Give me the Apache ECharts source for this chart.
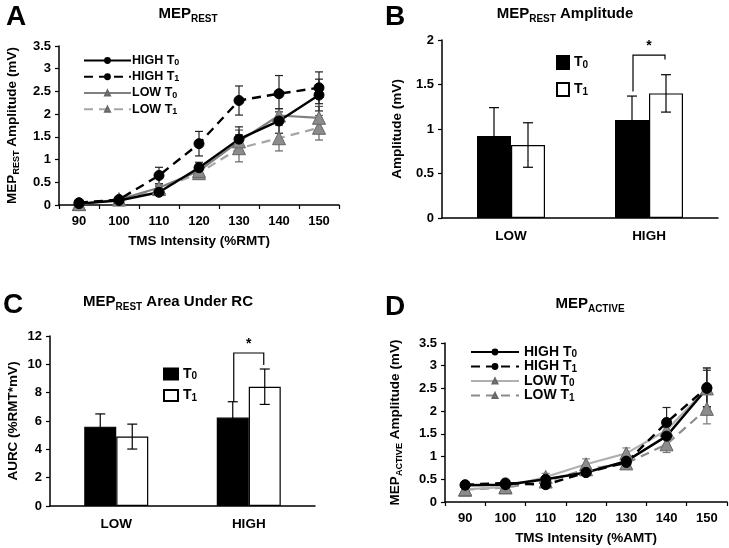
<!DOCTYPE html>
<html><head><meta charset="utf-8">
<script src="https://cdn.jsdelivr.net/npm/echarts@6/dist/echarts.min.js"></script>
<style>html,body{margin:0;padding:0;background:#fff}#c{width:729px;height:548px}</style>
</head><body><div id="c"></div>
<script>
// ---------- data ----------
const intensities = ['90','100','110','120','130','140','150'];
// Panel A: MEP_REST recruitment curves
const restHighT0 = [0.03,0.10,0.28,0.82,1.45,1.85,2.42];
const restHighT1 = [0.05,0.12,0.65,1.35,2.30,2.45,2.58];
const restLowT0  = [0.02,0.12,0.38,0.75,1.40,1.97,1.92];
const restLowT1  = [0.02,0.13,0.35,0.70,1.25,1.47,1.70];
const restHighT0Err = [0.02,0.03,0.05,0.12,0.27,0.27,0.35];
const restHighT1Err = [0.02,0.03,0.18,0.27,0.32,0.40,0.35];
const restLowT0Err  = [0.02,0.03,0.06,0.15,0.25,0.15,0.25];
const restLowT1Err  = [0.02,0.03,0.06,0.13,0.30,0.28,0.27];
// Panel B: MEP_REST amplitude
const groups = ['LOW','HIGH'];
const ampT0 = [0.92,1.10];
const ampT0Err = [0.32,0.27];
const ampT1 = [0.82,1.40];
const ampT1Err = [0.25,0.21];
const ampBracket = [1.42,1.78,1.83]; // left end, right end, top (HIGH group)
// Panel C: area under recruitment curve
const aurcT0 = [5.60,6.24];
const aurcT0Err = [0.90,1.12];
const aurcT1 = [4.90,8.42];
const aurcT1Err = [0.88,1.25];
const aurcBracket = [7.34,9.95,10.8];
// Panel D: MEP_ACTIVE recruitment curves
const activeHighT0 = [0.37,0.38,0.50,0.65,0.90,1.45,2.50];
const activeHighT1 = [0.38,0.42,0.38,0.65,0.87,1.75,2.52];
const activeLowT0  = [0.28,0.33,0.55,0.83,1.07,1.58,2.50];
const activeLowT1  = [0.27,0.32,0.45,0.72,0.85,1.27,2.05];
const activeHighT0Err = [0.03,0.03,0.05,0.06,0.08,0.20,0.40];
const activeHighT1Err = [0.03,0.03,0.05,0.06,0.08,0.33,0.43];
const activeLowT0Err  = [0.03,0.03,0.08,0.12,0.12,0.20,0.45];
const activeLowT1Err  = [0.03,0.03,0.06,0.10,0.08,0.18,0.33];

// ---------- helpers ----------
const FONT = 'Liberation Sans, Arial, sans-serif';
const errData = (vals, errs) => vals.map((v,i)=>[i, v-errs[i], v+errs[i]]);
function errSeries(vals, errs, xi, color, offset, cap, z) {
  return {
    type:'custom', xAxisIndex:xi, yAxisIndex:xi, z: z||3, silent:true,
    data: errData(vals, errs),
    renderItem: function(params, api){
      const p1 = api.coord([api.value(0), api.value(1)]);
      const p2 = api.coord([api.value(0), api.value(2)]);
      const cx = p1[0] + offset;
      const st = {stroke:color, lineWidth:1.2};
      return {type:'group', children:[
        {type:'line', shape:{x1:cx,y1:p1[1],x2:cx,y2:p2[1]}, style:st},
        {type:'line', shape:{x1:cx-cap,y1:p1[1],x2:cx+cap,y2:p1[1]}, style:st},
        {type:'line', shape:{x1:cx-cap,y1:p2[1],x2:cx+cap,y2:p2[1]}, style:st}
      ]};
    }
  };
}
function bracketSeries(br, gi, xi, half) {
  return {
    type:'custom', xAxisIndex:xi, yAxisIndex:xi, z:5, silent:true,
    data:[[gi, br[0], br[1], br[2]]],
    renderItem: function(params, api){
      const c = api.value(0);
      const pl = api.coord([c, api.value(1)]);
      const pr = api.coord([c, api.value(2)]);
      const pt = api.coord([c, api.value(3)]);
      const xl = pl[0]-half, xr = pl[0]+half;
      return {type:'group', children:[
        {type:'polyline', shape:{points:[[xl,pl[1]],[xl,pt[1]],[xr,pt[1]],[xr,pr[1]]]}, style:{stroke:'#000',lineWidth:1.2,fill:null}},
        {type:'text', x:pl[0], y:pt[1]-2, style:{text:'*', font:'bold 14px '+FONT, fill:'#000', align:'center', verticalAlign:'bottom'}}
      ]};
    }
  };
}
const subRich = (size) => ({
  s:{fontSize:Math.round(size*0.68), fontWeight:'bold', fontFamily:FONT, color:'#000', verticalAlign:'bottom', lineHeight:size+1}
});
const legendFmt = name => name.replace(/^[A-D]:/,'').replace(/T(\d)$/, 'T{s|$1}');

function lineAxisX(gi, name) {
  return {type:'category', gridIndex:gi, data:intensities, boundaryGap:true,
    axisLine:{show:true, lineStyle:{color:'#000', width:1.5}},
    axisTick:{show:true, length:4, lineStyle:{color:'#000', width:1.2}},
    axisLabel:{color:'#000', fontWeight:'bold', fontSize:13, fontFamily:FONT, margin:10},
    name:name, nameLocation:'middle', nameGap:29,
    nameTextStyle:{color:'#000', fontWeight:'bold', fontSize:13.5, fontFamily:FONT}};
}
function barAxisX(gi) {
  return {type:'category', gridIndex:gi, data:groups, boundaryGap:true,
    axisLine:{show:true, lineStyle:{color:'#000', width:1.5}},
    axisTick:{show:false},
    axisLabel:{color:'#000', fontWeight:'bold', fontSize:13.5, fontFamily:FONT, margin:11}};
}
function valAxisY(gi, max, interval, name, gap) {
  return {type:'value', gridIndex:gi, min:0, max:max, interval:interval,
    axisLine:{show:true, lineStyle:{color:'#000', width:1.5}},
    axisTick:{show:true, length:4, lineStyle:{color:'#000', width:1.2}},
    splitLine:{show:false},
    axisLabel:{color:'#000', fontWeight:'bold', fontSize:13, fontFamily:FONT, margin:8},
    name:name, nameLocation:'middle', nameGap:gap,
    nameTextStyle:{color:'#000', fontWeight:'bold', fontSize:13.5, fontFamily:FONT,
      rich:{b:{fontSize:13.5, fontWeight:'bold', fontFamily:FONT, color:'#000'}, s:{fontSize:9, fontWeight:'bold', fontFamily:FONT, color:'#000', verticalAlign:'bottom', lineHeight:17}}}};
}
function lineSer(name, data, xi, color, dashed, sym, symSize, width, symColor, symBorder) {
  return {type:'line', name:name, xAxisIndex:xi, yAxisIndex:xi, data:data, z:4,
    symbol:sym, symbolSize:symSize, showSymbol:true,
    lineStyle:{color:color, width:width, type: dashed ? [9,6] : 'solid'},
    itemStyle:{color:symColor, borderColor:symBorder, borderWidth:1},
    emphasis:{disabled:true}};
}

const graphics = [];
function label(text, x, y, size) {
  graphics.push({type:'text', x:x, y:y, style:{text:text, font:'bold '+size+'px '+FONT, fill:'#000', align:'left', verticalAlign:'top'}});
}
function title(text, x, y) {
  graphics.push({type:'text', x:x, y:y, style:{text:text, font:'bold 15px '+FONT, fill:'#000', align:'center', verticalAlign:'middle',
    rich:{m:{fontSize:15, fontWeight:'bold', fontFamily:FONT, fill:'#000'}, s:{fontSize:10, fontWeight:'bold', fontFamily:FONT, fill:'#000', verticalAlign:'bottom', lineHeight:20}}}});
}
label('A', 6, 3, 28);
label('B', 385, 3, 28);
label('C', 3, 291, 28);
label('D', 385, 293, 28);
title('{m|MEP}{s|REST}', 188, 14);
title('{m|MEP}{s|REST}{m| Amplitude}', 565, 14);
title('{m|MEP}{s|REST}{m| Area Under RC}', 168, 302);
title('{m|MEP}{s|ACTIVE}', 590, 304);

const option = {
  animation:false,
  backgroundColor:'#fff',
  textStyle:{fontFamily:FONT},
  grid:[
    {left:59, width:280, top:46, height:159, containLabel:false},
    {left:442, width:276, top:40, height:178, containLabel:false},
    {left:50, width:265, top:336, height:170, containLabel:false},
    {left:445, width:282, top:343, height:159, containLabel:false}
  ],
  xAxis:[
    lineAxisX(0,'TMS Intensity (%RMT)'),
    barAxisX(1),
    barAxisX(2),
    lineAxisX(3,'TMS Intensity (%AMT)')
  ],
  yAxis:[
    valAxisY(0, 3.5, 0.5, '{b|MEP}{s|REST}{b| Amplitude (mV)}', 38),
    valAxisY(1, 2, 0.5, '{b|Amplitude (mV)}', 38),
    valAxisY(2, 12, 2, '{b|AURC (%RMT*mV)}', 30),
    valAxisY(3, 3.5, 0.5, '{b|MEP}{s|ACTIVE}{b| Amplitude (mV)}', 41)
  ],
  legend:[
    {data:['A:HIGH T0','A:HIGH T1','A:LOW T0','A:LOW T1'], orient:'vertical', left:78, top:49,
     itemWidth:47, itemHeight:6, itemGap:3, selectedMode:false, formatter:legendFmt,
     textStyle:{color:'#000', fontWeight:'bold', fontSize:12.5, fontFamily:FONT, rich:subRich(12.5), padding:[0,0,0,-4]}},
    {data:['B:T0','B:T1'], orient:'vertical', left:551, top:50, icon:'rect',
     itemWidth:12, itemHeight:13, itemGap:12, selectedMode:false, formatter:legendFmt,
     textStyle:{color:'#000', fontWeight:'bold', fontSize:14, fontFamily:FONT, rich:subRich(14)}},
    {data:['C:T0','C:T1'], orient:'vertical', left:158, top:362, icon:'rect',
     itemWidth:14, itemHeight:11, itemGap:7, selectedMode:false, formatter:legendFmt,
     textStyle:{color:'#000', fontWeight:'bold', fontSize:14, fontFamily:FONT, rich:subRich(14)}},
    {data:['D:HIGH T0','D:HIGH T1','D:LOW T0','D:LOW T1'], orient:'vertical', left:465, top:340,
     itemWidth:48, itemHeight:6, itemGap:0, selectedMode:false, formatter:legendFmt,
     textStyle:{color:'#000', fontWeight:'bold', fontSize:14, fontFamily:FONT, rich:subRich(14)}}
  ],
  graphic: graphics,
  series:[
    // Panel A
    errSeries(restLowT1, restLowT1Err, 0, '#666', 0, 4),
    errSeries(restLowT0, restLowT0Err, 0, '#555', 0, 4),
    errSeries(restHighT1, restHighT1Err, 0, '#222', 0, 4),
    errSeries(restHighT0, restHighT0Err, 0, '#222', 0, 4),
    lineSer('A:LOW T1', restLowT1, 0, '#a6a6a6', true, 'triangle', 13, 2.2, '#8c8c8c', '#666'),
    lineSer('A:LOW T0', restLowT0, 0, '#808080', false, 'triangle', 13, 2.2, '#8c8c8c', '#666'),
    lineSer('A:HIGH T1', restHighT1, 0, '#000', true, 'circle', 10, 2.4, '#000', '#000'),
    lineSer('A:HIGH T0', restHighT0, 0, '#000', false, 'circle', 10, 2.4, '#000', '#000'),
    // Panel B
    {type:'bar', name:'B:T0', xAxisIndex:1, yAxisIndex:1, data:ampT0, barWidth:34, barGap:'0%',
     itemStyle:{color:'#000', borderColor:'#000', borderWidth:1.2}},
    {type:'bar', name:'B:T1', xAxisIndex:1, yAxisIndex:1, data:ampT1, barWidth:34, barGap:'0%',
     itemStyle:{color:'#fff', borderColor:'#000', borderWidth:1.2}},
    errSeries(ampT0, ampT0Err, 1, '#000', -17, 5, 6),
    errSeries(ampT1, ampT1Err, 1, '#000', 17, 5, 6),
    bracketSeries(ampBracket, 1, 1, 16),
    // Panel C
    {type:'bar', name:'C:T0', xAxisIndex:2, yAxisIndex:2, data:aurcT0, barWidth:32, barGap:'0%',
     itemStyle:{color:'#000', borderColor:'#000', borderWidth:1.2}},
    {type:'bar', name:'C:T1', xAxisIndex:2, yAxisIndex:2, data:aurcT1, barWidth:32, barGap:'0%',
     itemStyle:{color:'#fff', borderColor:'#000', borderWidth:1.2}},
    errSeries(aurcT0, aurcT0Err, 2, '#000', -16, 5, 6),
    errSeries(aurcT1, aurcT1Err, 2, '#000', 16, 5, 6),
    bracketSeries(aurcBracket, 1, 2, 15),
    // Panel D
    errSeries(activeLowT1, activeLowT1Err, 3, '#777', 0, 4),
    errSeries(activeLowT0, activeLowT0Err, 3, '#888', 0, 4),
    errSeries(activeHighT1, activeHighT1Err, 3, '#222', 0, 4),
    errSeries(activeHighT0, activeHighT0Err, 3, '#222', 0, 4),
    lineSer('D:LOW T1', activeLowT1, 3, '#8c8c8c', true, 'triangle', 13, 2.2, '#8c8c8c', '#666'),
    lineSer('D:LOW T0', activeLowT0, 3, '#b0b0b0', false, 'triangle', 13, 2.2, '#8c8c8c', '#666'),
    lineSer('D:HIGH T1', activeHighT1, 3, '#000', true, 'circle', 10, 2.4, '#000', '#000'),
    lineSer('D:HIGH T0', activeHighT0, 3, '#000', false, 'circle', 10, 2.4, '#000', '#000')
  ]
};
const chart = echarts.init(document.getElementById('c'), null, {renderer:'canvas'});
chart.setOption(option);
</script></body></html>
